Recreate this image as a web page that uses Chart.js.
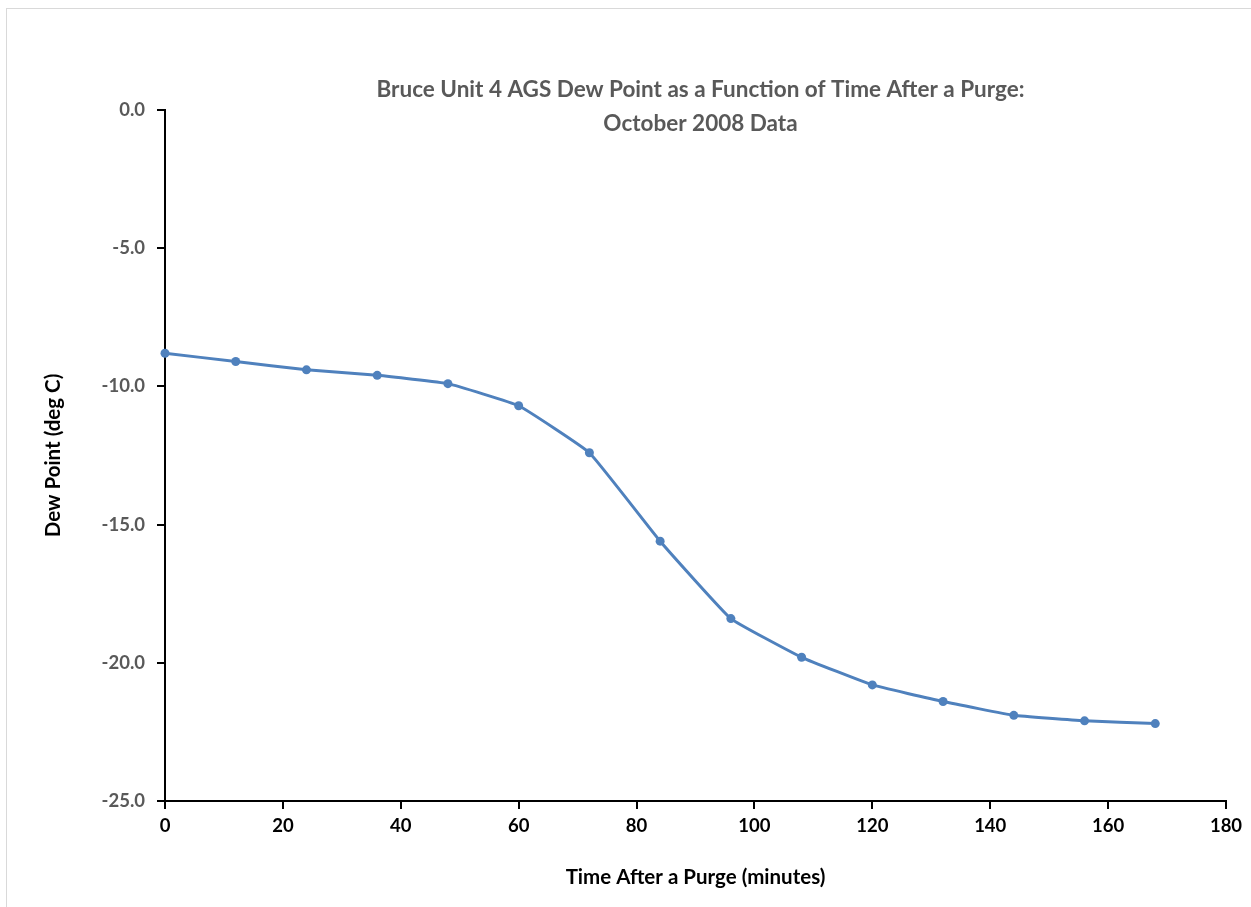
<!DOCTYPE html>
<html>
<head>
<meta charset="utf-8">
<script src="https://cdn.jsdelivr.net/npm/chart.js@4.4.1/dist/chart.umd.min.js"></script>
<style>
  html, body { margin: 0; padding: 0; background: #fff; }
  #wrap { position: relative; width: 1251px; height: 907px; overflow: hidden; }
  #frame { position: absolute; left: 6px; top: 8px; width: 1260px; height: 920px; border: 1px solid #d9d9d9; }
  canvas { position: absolute; left: 0; top: 0; }
</style>
</head>
<body>
<div id="wrap">
  <div id="frame"></div>
  <canvas id="chart" width="1251" height="907"></canvas>
</div>
<script>
// minutes after purge
const minutes  = [0, 12, 24, 36, 48, 60, 72, 84, 96, 108, 120, 132, 144, 156, 168]
// dew point, deg C
const dewPoint = [-8.8, -9.1, -9.4, -9.6, -9.9, -10.7, -12.4, -15.6, -18.4, -19.8, -20.8, -21.4, -21.9, -22.1, -22.2]
const xTicks   = [0, 20, 40, 60, 80, 100, 120, 140, 160, 180]
const yTicks   = [0, -5, -10, -15, -20, -25]
const titleLines = ['Bruce Unit 4 AGS Dew Point as a Function of Time After a Purge:', 'October 2008 Data']

const FONT = 'Lato, "Open Sans", sans-serif'

// title sits inside the plot area, like the original
const insideTitle = {
  id: 'insideTitle',
  afterDraw(chart) {
    const ctx = chart.ctx
    const a = chart.chartArea
    ctx.save()
    ctx.font = 'bold 22.5px ' + FONT
    ctx.fillStyle = '#595959'
    ctx.textAlign = 'center'
    ctx.textBaseline = 'middle'
    const cx = (a.left + a.right) / 2 + 5
    titleLines.forEach((t, i) => ctx.fillText(t, cx, 90 + i * 34))
    ctx.restore()
  }
}

const points = minutes.map((m, i) => ({ x: m, y: dewPoint[i] }))

new Chart(document.getElementById('chart'), {
  type: 'line',
  data: {
    datasets: [{
      data: points,
      borderColor: '#4F81BD',
      backgroundColor: '#4F81BD',
      borderWidth: 3,
      pointRadius: 4.5,
      pointBorderWidth: 0,
      tension: 0.1,
      clip: false
    }]
  },
  options: {
    responsive: false,
    animation: false,
    layout: { padding: { left: 0, top: 110, right: 25, bottom: 10 } },
    plugins: {
      legend: { display: false },
      tooltip: { enabled: false }
    },
    scales: {
      x: {
        type: 'linear',
        min: 0,
        max: 180,
        afterBuildTicks(scale) { scale.ticks = xTicks.map(v => ({ value: v })) },
        afterFit(scale) { scale.height = 907 - 10 - 801 },
        border: { color: '#000', width: 2 },
        grid: { drawOnChartArea: false, drawTicks: true, tickLength: 8, color: '#000', lineWidth: 2 },
        ticks: { color: '#000', padding: 6, font: { family: FONT, size: 18.5, weight: 'bold' }, maxRotation: 0 },
        title: {
          display: true,
          text: 'Time After a Purge (minutes)',
          color: '#000',
          font: { family: FONT, size: 20.5, weight: 'bold' },
          padding: { top: 0, bottom: 7 }
        }
      },
      y: {
        type: 'linear',
        min: -25,
        max: 0,
        afterBuildTicks(scale) { scale.ticks = yTicks.map(v => ({ value: v })) },
        afterFit(scale) { scale.width = 165 },
        border: { color: '#000', width: 2 },
        grid: { drawOnChartArea: false, drawTicks: true, tickLength: 8, color: '#000', lineWidth: 2 },
        ticks: {
          color: '#595959',
          padding: 12,
          font: { family: FONT, size: 18.5, weight: 'bold' },
          callback: v => v.toFixed(1)
        },
        title: {
          display: true,
          text: 'Dew Point (deg C)',
          color: '#000',
          font: { family: FONT, size: 20.5, weight: 'bold' },
          padding: { top: 41, bottom: 0 }
        }
      }
    }
  },
  plugins: [insideTitle]
})
</script>
</body>
</html>
